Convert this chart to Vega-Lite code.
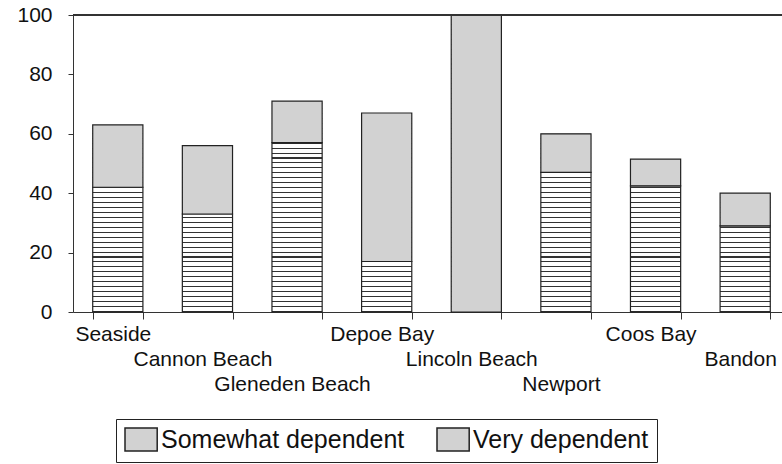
{
  "$schema": "https://vega.github.io/schema/vega-lite/v6.json",
  "width": 709,
  "height": 297,
  "autosize": "none",
  "padding": {"left": 73, "top": 15, "right": 0, "bottom": 152},
  "background": "white",
  "config": {"view": {"stroke": null}, "font": "Liberation Sans"},
  "data": {
    "values": [
      {"place": "Seaside", "dependence": "Somewhat dependent", "pct": 42},
      {"place": "Seaside", "dependence": "Very dependent", "pct": 21},
      {"place": "Cannon Beach", "dependence": "Somewhat dependent", "pct": 33},
      {"place": "Cannon Beach", "dependence": "Very dependent", "pct": 23},
      {"place": "Gleneden Beach", "dependence": "Somewhat dependent", "pct": 57},
      {"place": "Gleneden Beach", "dependence": "Very dependent", "pct": 14},
      {"place": "Depoe Bay", "dependence": "Somewhat dependent", "pct": 17},
      {"place": "Depoe Bay", "dependence": "Very dependent", "pct": 50},
      {"place": "Lincoln Beach", "dependence": "Somewhat dependent", "pct": 0},
      {"place": "Lincoln Beach", "dependence": "Very dependent", "pct": 100},
      {"place": "Newport", "dependence": "Somewhat dependent", "pct": 47},
      {"place": "Newport", "dependence": "Very dependent", "pct": 13},
      {"place": "Coos Bay", "dependence": "Somewhat dependent", "pct": 42.5},
      {"place": "Coos Bay", "dependence": "Very dependent", "pct": 9},
      {"place": "Bandon", "dependence": "Somewhat dependent", "pct": 29},
      {"place": "Bandon", "dependence": "Very dependent", "pct": 11}
    ]
  },
  "layer": [
    {
      "transform": [{"filter": "datum.dependence === 'Very dependent'"}],
      "mark": {
        "type": "bar",
        "stroke": null,
        "fill": {
          "gradient": "linear", "x1": 0, "y1": 0, "x2": 0, "y2": 1,
          "stops": [
            {"offset": 0, "color": "#fff"}, {"offset": 0.013, "color": "#fff"}, {"offset": 0.013, "color": "#333"}, {"offset": 0.01667, "color": "#333"},
            {"offset": 0.01667, "color": "#fff"}, {"offset": 0.02967, "color": "#fff"}, {"offset": 0.02967, "color": "#333"}, {"offset": 0.03333, "color": "#333"},
            {"offset": 0.03333, "color": "#fff"}, {"offset": 0.04633, "color": "#fff"}, {"offset": 0.04633, "color": "#333"}, {"offset": 0.05, "color": "#333"},
            {"offset": 0.05, "color": "#fff"}, {"offset": 0.063, "color": "#fff"}, {"offset": 0.063, "color": "#333"}, {"offset": 0.06667, "color": "#333"},
            {"offset": 0.06667, "color": "#fff"}, {"offset": 0.07967, "color": "#fff"}, {"offset": 0.07967, "color": "#333"}, {"offset": 0.08333, "color": "#333"},
            {"offset": 0.08333, "color": "#fff"}, {"offset": 0.09633, "color": "#fff"}, {"offset": 0.09633, "color": "#333"}, {"offset": 0.1, "color": "#333"},
            {"offset": 0.1, "color": "#fff"}, {"offset": 0.113, "color": "#fff"}, {"offset": 0.113, "color": "#333"}, {"offset": 0.11667, "color": "#333"},
            {"offset": 0.11667, "color": "#fff"}, {"offset": 0.12967, "color": "#fff"}, {"offset": 0.12967, "color": "#333"}, {"offset": 0.13333, "color": "#333"},
            {"offset": 0.13333, "color": "#fff"}, {"offset": 0.14633, "color": "#fff"}, {"offset": 0.14633, "color": "#333"}, {"offset": 0.15, "color": "#333"},
            {"offset": 0.15, "color": "#fff"}, {"offset": 0.163, "color": "#fff"}, {"offset": 0.163, "color": "#333"}, {"offset": 0.16667, "color": "#333"},
            {"offset": 0.16667, "color": "#fff"}, {"offset": 0.17967, "color": "#fff"}, {"offset": 0.17967, "color": "#333"}, {"offset": 0.18333, "color": "#333"},
            {"offset": 0.18333, "color": "#fff"}, {"offset": 0.19633, "color": "#fff"}, {"offset": 0.19633, "color": "#333"}, {"offset": 0.2, "color": "#333"},
            {"offset": 0.2, "color": "#fff"}, {"offset": 0.213, "color": "#fff"}, {"offset": 0.213, "color": "#333"}, {"offset": 0.21667, "color": "#333"},
            {"offset": 0.21667, "color": "#fff"}, {"offset": 0.22967, "color": "#fff"}, {"offset": 0.22967, "color": "#333"}, {"offset": 0.23333, "color": "#333"},
            {"offset": 0.23333, "color": "#fff"}, {"offset": 0.24633, "color": "#fff"}, {"offset": 0.24633, "color": "#333"}, {"offset": 0.25, "color": "#333"},
            {"offset": 0.25, "color": "#fff"}, {"offset": 0.263, "color": "#fff"}, {"offset": 0.263, "color": "#333"}, {"offset": 0.26667, "color": "#333"},
            {"offset": 0.26667, "color": "#fff"}, {"offset": 0.27967, "color": "#fff"}, {"offset": 0.27967, "color": "#333"}, {"offset": 0.28333, "color": "#333"},
            {"offset": 0.28333, "color": "#fff"}, {"offset": 0.29633, "color": "#fff"}, {"offset": 0.29633, "color": "#333"}, {"offset": 0.3, "color": "#333"},
            {"offset": 0.3, "color": "#fff"}, {"offset": 0.313, "color": "#fff"}, {"offset": 0.313, "color": "#333"}, {"offset": 0.31667, "color": "#333"},
            {"offset": 0.31667, "color": "#fff"}, {"offset": 0.32967, "color": "#fff"}, {"offset": 0.32967, "color": "#333"}, {"offset": 0.33333, "color": "#333"},
            {"offset": 0.33333, "color": "#fff"}, {"offset": 0.34633, "color": "#fff"}, {"offset": 0.34633, "color": "#333"}, {"offset": 0.35, "color": "#333"},
            {"offset": 0.35, "color": "#fff"}, {"offset": 0.363, "color": "#fff"}, {"offset": 0.363, "color": "#333"}, {"offset": 0.36667, "color": "#333"},
            {"offset": 0.36667, "color": "#fff"}, {"offset": 0.37967, "color": "#fff"}, {"offset": 0.37967, "color": "#333"}, {"offset": 0.38333, "color": "#333"},
            {"offset": 0.38333, "color": "#fff"}, {"offset": 0.39633, "color": "#fff"}, {"offset": 0.39633, "color": "#333"}, {"offset": 0.4, "color": "#333"},
            {"offset": 0.4, "color": "#fff"}, {"offset": 0.413, "color": "#fff"}, {"offset": 0.413, "color": "#333"}, {"offset": 0.41667, "color": "#333"},
            {"offset": 0.41667, "color": "#fff"}, {"offset": 0.42967, "color": "#fff"}, {"offset": 0.42967, "color": "#333"}, {"offset": 0.43333, "color": "#333"},
            {"offset": 0.43333, "color": "#fff"}, {"offset": 0.44633, "color": "#fff"}, {"offset": 0.44633, "color": "#333"}, {"offset": 0.45, "color": "#333"},
            {"offset": 0.45, "color": "#fff"}, {"offset": 0.463, "color": "#fff"}, {"offset": 0.463, "color": "#333"}, {"offset": 0.46667, "color": "#333"},
            {"offset": 0.46667, "color": "#fff"}, {"offset": 0.47967, "color": "#fff"}, {"offset": 0.47967, "color": "#333"}, {"offset": 0.48333, "color": "#333"},
            {"offset": 0.48333, "color": "#fff"}, {"offset": 0.49633, "color": "#fff"}, {"offset": 0.49633, "color": "#333"}, {"offset": 0.5, "color": "#333"},
            {"offset": 0.5, "color": "#fff"}, {"offset": 0.513, "color": "#fff"}, {"offset": 0.513, "color": "#333"}, {"offset": 0.51667, "color": "#333"},
            {"offset": 0.51667, "color": "#fff"}, {"offset": 0.52967, "color": "#fff"}, {"offset": 0.52967, "color": "#333"}, {"offset": 0.53333, "color": "#333"},
            {"offset": 0.53333, "color": "#fff"}, {"offset": 0.54633, "color": "#fff"}, {"offset": 0.54633, "color": "#333"}, {"offset": 0.55, "color": "#333"},
            {"offset": 0.55, "color": "#fff"}, {"offset": 0.563, "color": "#fff"}, {"offset": 0.563, "color": "#333"}, {"offset": 0.56667, "color": "#333"},
            {"offset": 0.56667, "color": "#fff"}, {"offset": 0.57967, "color": "#fff"}, {"offset": 0.57967, "color": "#333"}, {"offset": 0.58333, "color": "#333"},
            {"offset": 0.58333, "color": "#fff"}, {"offset": 0.59633, "color": "#fff"}, {"offset": 0.59633, "color": "#333"}, {"offset": 0.6, "color": "#333"},
            {"offset": 0.6, "color": "#fff"}, {"offset": 0.613, "color": "#fff"}, {"offset": 0.613, "color": "#333"}, {"offset": 0.61667, "color": "#333"},
            {"offset": 0.61667, "color": "#fff"}, {"offset": 0.62967, "color": "#fff"}, {"offset": 0.62967, "color": "#333"}, {"offset": 0.63333, "color": "#333"},
            {"offset": 0.63333, "color": "#fff"}, {"offset": 0.64633, "color": "#fff"}, {"offset": 0.64633, "color": "#333"}, {"offset": 0.65, "color": "#333"},
            {"offset": 0.65, "color": "#fff"}, {"offset": 0.663, "color": "#fff"}, {"offset": 0.663, "color": "#333"}, {"offset": 0.66667, "color": "#333"},
            {"offset": 0.66667, "color": "#fff"}, {"offset": 0.67967, "color": "#fff"}, {"offset": 0.67967, "color": "#333"}, {"offset": 0.68333, "color": "#333"},
            {"offset": 0.68333, "color": "#fff"}, {"offset": 0.69633, "color": "#fff"}, {"offset": 0.69633, "color": "#333"}, {"offset": 0.7, "color": "#333"},
            {"offset": 0.7, "color": "#fff"}, {"offset": 0.713, "color": "#fff"}, {"offset": 0.713, "color": "#333"}, {"offset": 0.71667, "color": "#333"},
            {"offset": 0.71667, "color": "#fff"}, {"offset": 0.72967, "color": "#fff"}, {"offset": 0.72967, "color": "#333"}, {"offset": 0.73333, "color": "#333"},
            {"offset": 0.73333, "color": "#fff"}, {"offset": 0.74633, "color": "#fff"}, {"offset": 0.74633, "color": "#333"}, {"offset": 0.75, "color": "#333"},
            {"offset": 0.75, "color": "#fff"}, {"offset": 0.763, "color": "#fff"}, {"offset": 0.763, "color": "#333"}, {"offset": 0.76667, "color": "#333"},
            {"offset": 0.76667, "color": "#fff"}, {"offset": 0.77967, "color": "#fff"}, {"offset": 0.77967, "color": "#333"}, {"offset": 0.78333, "color": "#333"},
            {"offset": 0.78333, "color": "#fff"}, {"offset": 0.79633, "color": "#fff"}, {"offset": 0.79633, "color": "#333"}, {"offset": 0.8, "color": "#333"},
            {"offset": 0.8, "color": "#fff"}, {"offset": 0.813, "color": "#fff"}, {"offset": 0.813, "color": "#333"}, {"offset": 0.81667, "color": "#333"},
            {"offset": 0.81667, "color": "#fff"}, {"offset": 0.82967, "color": "#fff"}, {"offset": 0.82967, "color": "#333"}, {"offset": 0.83333, "color": "#333"},
            {"offset": 0.83333, "color": "#fff"}, {"offset": 0.84633, "color": "#fff"}, {"offset": 0.84633, "color": "#333"}, {"offset": 0.85, "color": "#333"},
            {"offset": 0.85, "color": "#fff"}, {"offset": 0.863, "color": "#fff"}, {"offset": 0.863, "color": "#333"}, {"offset": 0.86667, "color": "#333"},
            {"offset": 0.86667, "color": "#fff"}, {"offset": 0.87967, "color": "#fff"}, {"offset": 0.87967, "color": "#333"}, {"offset": 0.88333, "color": "#333"},
            {"offset": 0.88333, "color": "#fff"}, {"offset": 0.89633, "color": "#fff"}, {"offset": 0.89633, "color": "#333"}, {"offset": 0.9, "color": "#333"},
            {"offset": 0.9, "color": "#fff"}, {"offset": 0.913, "color": "#fff"}, {"offset": 0.913, "color": "#333"}, {"offset": 0.91667, "color": "#333"},
            {"offset": 0.91667, "color": "#fff"}, {"offset": 0.92967, "color": "#fff"}, {"offset": 0.92967, "color": "#333"}, {"offset": 0.93333, "color": "#333"},
            {"offset": 0.93333, "color": "#fff"}, {"offset": 0.94633, "color": "#fff"}, {"offset": 0.94633, "color": "#333"}, {"offset": 0.95, "color": "#333"},
            {"offset": 0.95, "color": "#fff"}, {"offset": 0.963, "color": "#fff"}, {"offset": 0.963, "color": "#333"}, {"offset": 0.96667, "color": "#333"},
            {"offset": 0.96667, "color": "#fff"}, {"offset": 0.97967, "color": "#fff"}, {"offset": 0.97967, "color": "#333"}, {"offset": 0.98333, "color": "#333"},
            {"offset": 0.98333, "color": "#fff"}, {"offset": 0.99633, "color": "#fff"}, {"offset": 0.99633, "color": "#333"}, {"offset": 1, "color": "#333"}
          ]
        }
      },
      "encoding": {
        "x": {
          "field": "place", "type": "nominal",
          "sort": ["Seaside", "Cannon Beach", "Gleneden Beach", "Depoe Bay", "Lincoln Beach", "Newport", "Coos Bay", "Bandon"],
          "scale": {"range": [0, 717], "paddingInner": 0.44, "paddingOuter": 0.22},
          "axis": {
            "title": null, "labelAngle": 0, "tickBand": "extent", "tickSize": 7,
            "tickColor": "#333", "domainColor": "#333",
            "labelFont": "Liberation Sans", "labelFontSize": 21, "labelColor": "#111",
            "labelBaseline": "alphabetic", "labelOffset": -5, "labelOverlap": false,
            "labelBound": false, "labelLimit": 0,
            "labelPadding": {
              "condition": [
                {"test": "indexof(['Cannon Beach','Lincoln Beach','Bandon'], datum.value) >= 0", "value": 46},
                {"test": "indexof(['Gleneden Beach','Newport'], datum.value) >= 0", "value": 71}
              ],
              "value": 21
            }
          }
        },
        "y": {
          "datum": 0, "type": "quantitative",
          "scale": {"domain": [0, 100], "nice": false},
          "axis": {
            "title": null, "grid": false,
            "values": [0, 20, 40, 60, 80, 100],
            "tickSize": 5,
            "labelPadding": 16, "labelFont": "Liberation Sans", "labelFontSize": 21, "labelColor": "#111",
            "tickColor": "#333", "domainColor": "#333"
          }
        },
        "y2": {"datum": 100}
      }
    },
    {
      "transform": [
        {"joinaggregate": [{"op": "sum", "field": "pct", "as": "total"}], "groupby": ["place"]},
        {"filter": "datum.dependence === 'Very dependent'"}
      ],
      "mark": {"type": "bar", "fill": "white", "stroke": null, "width": {"band": 1.1}},
      "encoding": {
        "x": {"field": "place", "type": "nominal", "sort": ["Seaside", "Cannon Beach", "Gleneden Beach", "Depoe Bay", "Lincoln Beach", "Newport", "Coos Bay", "Bandon"]},
        "y": {"field": "total", "type": "quantitative"},
        "y2": {"datum": 100}
      }
    },
    {
      "mark": {"type": "bar", "stroke": "#222", "strokeWidth": 1.2},
      "encoding": {
        "x": {"field": "place", "type": "nominal", "sort": ["Seaside", "Cannon Beach", "Gleneden Beach", "Depoe Bay", "Lincoln Beach", "Newport", "Coos Bay", "Bandon"]},
        "y": {"field": "pct", "type": "quantitative", "stack": "zero"},
        "order": {"field": "dependence", "sort": "ascending"},
        "fill": {"condition": {"test": "datum.dependence === 'Somewhat dependent'", "value": "rgba(255,255,255,0)"}, "value": "#d2d2d2"},
        "opacity": {
          "field": "dependence", "type": "nominal",
          "scale": {"domain": ["Somewhat dependent", "Very dependent"], "range": [1, 1]},
          "legend": {
            "orient": "none", "legendX": 43, "legendY": 404, "direction": "horizontal",
            "title": null,
            "labelFont": "Liberation Sans", "labelFontSize": 25, "labelColor": "#111",
            "labelLimit": 0, "labelOffset": 12, "columnPadding": 29, "padding": 8,
            "strokeColor": "#222", "fillColor": "white",
            "symbolType": "M-1,-1H1.8V1H-1Z", "symbolSize": 529,
            "encode": {
              "symbols": {
                "update": {
                  "fill": {
                    "condition": {
                      "test": "datum.value === 'Somewhat dependent'",
                      "value": {
                        "gradient": "linear", "x1": 0, "y1": 0, "x2": 0, "y2": 1,
                        "stops": [
                          {"offset": 0, "color": "#fff"}, {"offset": 0.15, "color": "#fff"}, {"offset": 0.15, "color": "#333"}, {"offset": 0.2, "color": "#333"},
                          {"offset": 0.2, "color": "#fff"}, {"offset": 0.35, "color": "#fff"}, {"offset": 0.35, "color": "#333"}, {"offset": 0.4, "color": "#333"},
                          {"offset": 0.4, "color": "#fff"}, {"offset": 0.55, "color": "#fff"}, {"offset": 0.55, "color": "#333"}, {"offset": 0.6, "color": "#333"},
                          {"offset": 0.6, "color": "#fff"}, {"offset": 0.75, "color": "#fff"}, {"offset": 0.75, "color": "#333"}, {"offset": 0.8, "color": "#333"},
                          {"offset": 0.8, "color": "#fff"}, {"offset": 1, "color": "#fff"}
                        ]
                      }
                    },
                    "value": "#d2d2d2"
                  },
                  "fillOpacity": {"value": 1},
                  "stroke": {"value": "#222"},
                  "strokeWidth": {"value": 1}
                }
              }
            }
          }
        }
      }
    },
    {
      "mark": {"type": "rule", "color": "#333", "strokeWidth": 1},
      "encoding": {"y": {"datum": 100, "type": "quantitative"}}
    }
  ]
}
